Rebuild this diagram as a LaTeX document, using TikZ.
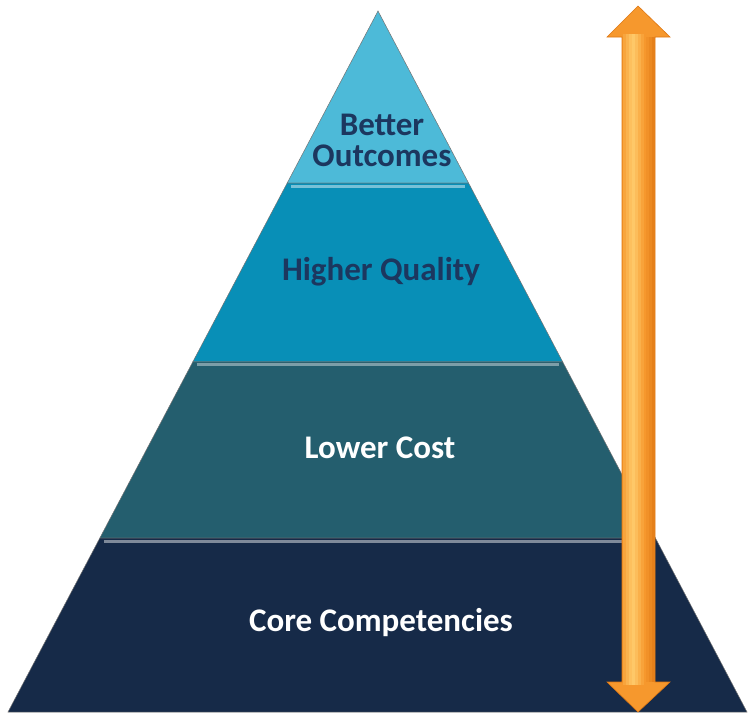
\documentclass[tikz,border=0pt]{standalone}
\usepackage{fontspec}
\setmainfont{Carlito}
\usetikzlibrary{calc}
\definecolor{bandA}{RGB}{77,186,216}
\definecolor{bandB}{RGB}{8,143,183}
\definecolor{bandC}{RGB}{36,94,110}
\definecolor{bandD}{RGB}{22,42,72}
\definecolor{txtdark}{RGB}{28,55,95}
\definecolor{arrmid}{RGB}{246,152,45}
\definecolor{arrdark}{RGB}{222,118,18}
\definecolor{arrlight}{RGB}{255,205,110}
\begin{document}
\begin{tikzpicture}[x=1pt,y=-1pt]
    \tikzstyle{lbl}=[font=\fontsize{33}{31}\selectfont\bfseries, align=center, inner sep=0pt]
    \tikzstyle{band}=[draw=black!55, line width=0.5pt]
    \tikzstyle{shine}=[line width=3pt]
    \useasboundingbox (0,0) rectangle (749,715);
    \coordinate (apex) at (378,11);
    \coordinate (bl) at (8,712);
    \coordinate (br) at (747,712);
    \coordinate (l1) at ($(apex)!0.2454!(bl)$);
    \coordinate (r1) at ($(apex)!0.2454!(br)$);
    \coordinate (l2) at ($(apex)!0.5007!(bl)$);
    \coordinate (r2) at ($(apex)!0.5007!(br)$);
    \coordinate (l3) at ($(apex)!0.7518!(bl)$);
    \coordinate (r3) at ($(apex)!0.7518!(br)$);
    % bands
    \filldraw[band, fill=bandA] (apex) -- (r1) -- (l1) -- cycle;
    \filldraw[band, fill=bandB] (l1) -- (r1) -- (r2) -- (l2) -- cycle;
    \filldraw[band, fill=bandC] (l2) -- (r2) -- (r3) -- (l3) -- cycle;
    \filldraw[band, fill=bandD] (l3) -- (r3) -- (br) -- (bl) -- cycle;
    \draw[shine, bandB!55!white] ($(l1)+(4,3)$) -- ($(r1)+(-4,3)$);
    \draw[shine, bandC!60!white] ($(l2)+(4,3)$) -- ($(r2)+(-4,3)$);
    \draw[shine, bandD!55!white] ($(l3)+(4,3)$) -- ($(r3)+(-4,3)$);
    % labels
    \node[lbl, txtdark] (outc) at (382,140) {Better\\Outcomes};
    \node[lbl, txtdark] (qual) at (381,272) {Higher Quality};
    \node[lbl, white] (cost) at (380,448) {Lower Cost};
    \node[lbl, white] (core) at (381,623) {Core Competencies};
    % arrow
    \coordinate (atop) at (638,6);
    \coordinate (abot) at (638,712);
    \filldraw[fill=arrmid, draw=arrdark, line width=0.6pt]
      (atop) -- ($(atop)+(32,31)$) -- ($(atop)+(17,31)$) -- ($(abot)+(17,-30)$)
      -- ($(abot)+(32,-30)$) -- (abot) -- ($(abot)+(-31,-30)$) -- ($(abot)+(-16,-30)$)
      -- ($(atop)+(-16,31)$) -- ($(atop)+(-31,31)$) -- cycle;
    \foreach \dx/\c in {-15/25,-12/50,-9/75,-6/90,-3/70,0/45,3/20}
      \fill[arrlight!\c!arrmid] ($(atop)+(\dx,28)$) rectangle ($(abot)+(\dx+3.2,-27)$);
    \foreach \dx/\c in {8/20,11/45,14/70}
      \fill[arrdark!\c!arrmid] ($(atop)+(\dx,31)$) rectangle ($(abot)+(\dx+3,-30)$);
    %\draw (atop) -- (abot);
\end{tikzpicture}
\end{document}
